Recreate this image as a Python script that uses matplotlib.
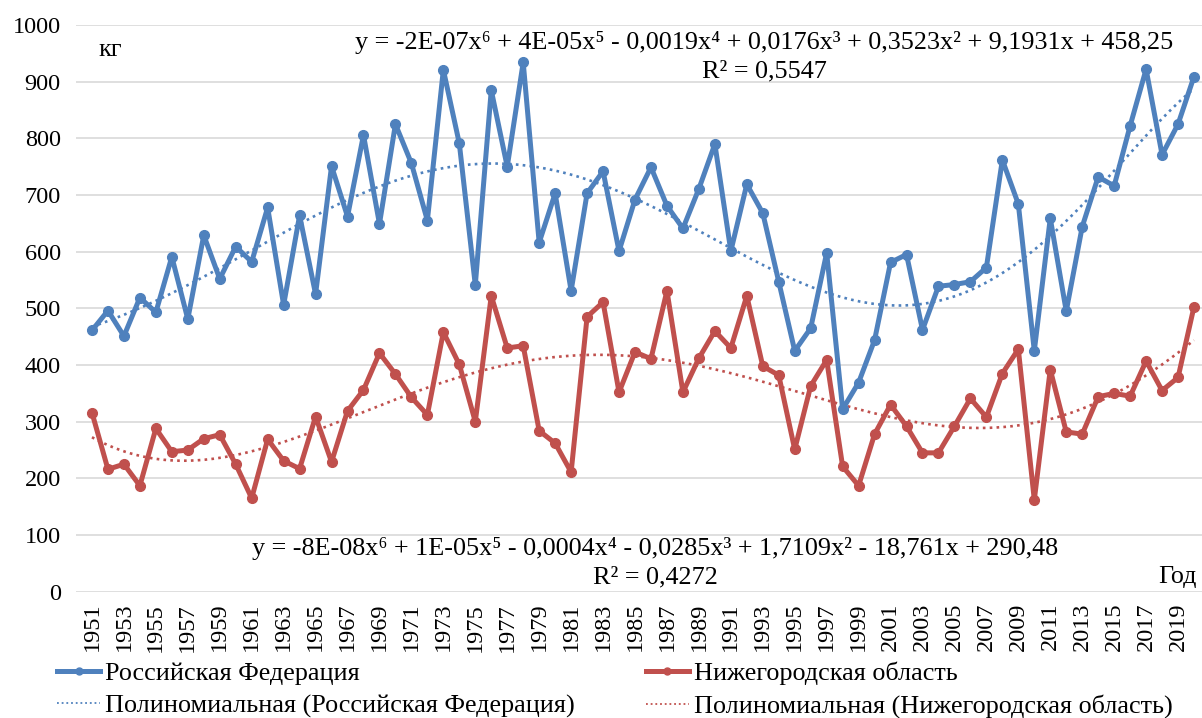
import numpy as np
import matplotlib
matplotlib.use("Agg")
import matplotlib.pyplot as plt
from matplotlib.lines import Line2D

plt.rcParams['font.family'] = ['Liberation Serif', 'DejaVu Serif']

years = list(range(1951, 2021))

rf = [461, 496, 451, 519, 493, 591, 481, 629, 552, 609,
      582, 678, 506, 664, 525, 751, 662, 806, 649, 825,
      756, 655, 921, 791, 541, 885, 750, 934, 616, 703,
      531, 703, 742, 601, 692, 749, 681, 641, 711, 790,
      601, 719, 668, 547, 425, 465, 598, 322, 369, 444,
      581, 595, 462, 539, 542, 547, 572, 762, 684, 425,
      659, 495, 644, 732, 716, 822, 922, 771, 825, 909]

nn = [316, 216, 225, 187, 288, 247, 250, 270, 277, 225,
      165, 269, 231, 217, 309, 229, 319, 356, 421, 384,
      343, 312, 458, 401, 300, 522, 430, 434, 284, 262,
      211, 485, 511, 352, 423, 411, 531, 352, 412, 460,
      430, 522, 398, 382, 251, 363, 409, 221, 187, 278,
      330, 292, 245, 245, 292, 341, 308, 385, 428, 162,
      392, 282, 278, 344, 350, 345, 407, 355, 378, 503]

eq_rf = "y = -2E-07x\u2076 + 4E-05x\u2075 - 0,0019x\u2074 + 0,0176x\u00b3 + 0,3523x\u00b2 + 9,1931x + 458,25"
r2_rf = "R\u00b2 = 0,5547"
eq_nn = "y = -8E-08x\u2076 + 1E-05x\u2075 - 0,0004x\u2074 - 0,0285x\u00b3 + 1,7109x\u00b2 - 18,761x + 290,48"
r2_nn = "R\u00b2 = 0,4272"

BLUE = "#4F81BD"
RED = "#C0504D"
W, H = 1202, 718

fig = plt.figure(figsize=(W / 100, H / 100), dpi=100)
ax = fig.add_axes([76 / W, 1 - 591.7 / H, (W - 76) / W, (591.7 - 25) / H])

x = np.arange(len(years))
# polynomial trend lines (degree 6, like Excel), x = 1..n
xf = x + 1
xs = np.linspace(0, len(years) - 1, 400)
trend_rf = np.polyval(np.polyfit(xf, rf, 6), xs + 1)
trend_nn = np.polyval(np.polyfit(xf, nn, 6), xs + 1)

ax.plot(x, rf, color=BLUE, lw=3.6, marker='o', ms=7, zorder=3)
ax.plot(x, nn, color=RED, lw=3.6, marker='o', ms=7, zorder=3)
ax.plot(xs, trend_rf, color=BLUE, lw=1.9, ls=(0, (1, 1.6)), zorder=2)
ax.plot(xs, trend_nn, color=RED, lw=1.9, ls=(0, (1, 1.6)), zorder=2)

ax.set_ylim(0, 1000)
ax.set_yticks(range(0, 1001, 100))
ax.set_xlim(-1.0, len(years) - 0.5)
ax.set_xticks(x[::2])
ax.set_xticklabels([str(y) for y in years[::2]], rotation=90, fontsize=17.5)
ax.tick_params(axis='y', labelsize=17.5, length=0, pad=11)
ax.tick_params(axis='x', length=0, pad=8)
ax.grid(axis='y', color='#D9D9D9', lw=1.2)
ax.set_axisbelow(True)
for s in ax.spines.values():
    s.set_visible(False)

fs = 18.8
fig.text(110 / W, 1 - 50 / H, "кг", fontsize=fs, ha='center', va='center')
fig.text(764 / W, 1 - 43 / H, eq_rf, fontsize=fs, ha='center', va='center')
fig.text(764 / W, 1 - 71 / H, r2_rf, fontsize=fs, ha='center', va='center')
fig.text(655 / W, 1 - 549 / H, eq_nn, fontsize=fs, ha='center', va='center')
fig.text(655 / W, 1 - 577 / H, r2_nn, fontsize=fs, ha='center', va='center')
fig.text(1177 / W, 1 - 577 / H, "Год", fontsize=fs, ha='center', va='center')

handles = [
    Line2D([], [], color=BLUE, lw=3.6, marker='o', ms=5),
    Line2D([], [], color=BLUE, lw=1.3, ls=(0, (1, 1.6))),
    Line2D([], [], color=RED, lw=3.6, marker='o', ms=5),
    Line2D([], [], color=RED, lw=1.3, ls=(0, (1, 1.6))),
]
labels = ["Российская Федерация", "Полиномиальная (Российская Федерация)",
          "Нижегородская область", "Полиномиальная (Нижегородская область)"]
fig.legend(handles, labels, ncol=2, loc='center left',
           bbox_to_anchor=(57 / W, 1 - 690 / H), frameon=False, fontsize=fs,
           borderpad=0, borderaxespad=0,
           handlelength=1.65, handletextpad=0.2, columnspacing=2.7,
           labelspacing=0.35)

fig.savefig("out.png", dpi=100)
